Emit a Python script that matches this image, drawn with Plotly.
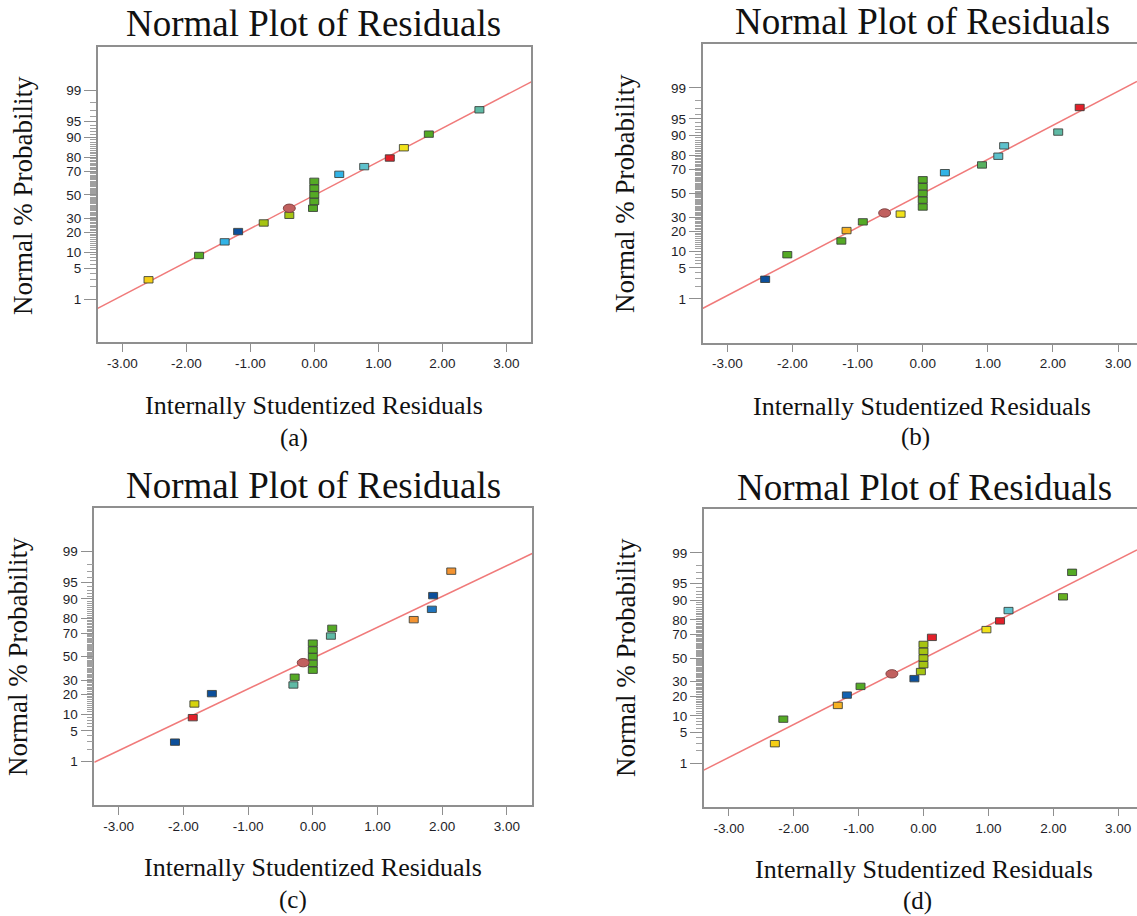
import plotly.graph_objects as go
from statistics import NormalDist

W, H = 1137, 916

# Probability levels shared by the four normal plots (percent)
prob_levels = [2.9, 8.8, 14.7, 20.6, 26.5, 32.4, 38.2, 44.1, 50.0, 55.9,
               61.8, 67.6, 73.5, 79.4, 85.3, 91.2, 97.1]

# Probability-axis labels and the finer 1 % marks between them
prob_major = [1, 5, 10, 20, 30, 50, 70, 80, 90, 95, 99]
prob_minor = [p for p in range(2, 99) if p not in prob_major]

x_ticks = [-3, -2, -1, 0, 1, 2, 3]

# Residual palette
GOLD = "#f6cf16"
GREEN = "#55aa25"
YGREEN = "#a6c412"
SKY = "#31b3e6"
NAVY = "#0c4f9b"
CYAN = "#5ec1cc"
RED = "#e2202a"
YELLOW = "#f1e21a"
SEA = "#5fbaa5"
AMBER = "#f7b222"
ORANGE = "#f39331"
BLUE = "#1f74bd"
MGREEN = "#58b060"

# (a)
a_resid = [-2.59, -1.80, -1.40, -1.19, -0.79, -0.39, -0.02, 0.00, 0.00, 0.00,
           0.00, 0.39, 0.78, 1.18, 1.40, 1.79, 2.58]
a_color = [GOLD, GREEN, SKY, NAVY, YGREEN, YGREEN, GREEN, GREEN, GREEN, GREEN,
           GREEN, SKY, CYAN, RED, YELLOW, GREEN, SEA]
a_sel = (-0.39, 38.2)
a_fit = (-0.01, 0.746)

# (b)
b_resid = [-2.42, -2.08, -1.25, -1.17, -0.92, -0.34, 0.00, 0.00, 0.00, 0.00,
           0.00, 0.34, 0.91, 1.16, 1.25, 2.08, 2.41]
b_color = [NAVY, GREEN, GREEN, AMBER, GREEN, YELLOW, GREEN, GREEN, GREEN, GREEN,
           GREEN, SKY, MGREEN, CYAN, CYAN, SEA, RED]
b_sel = (-0.585, 33.3)
b_fit = (0.0, 0.751)

# (c)
c_resid = [-2.13, -1.855, -1.83, -1.56, -0.30, -0.28, 0.00, 0.00, 0.00, 0.00,
           0.00, 0.28, 0.30, 1.56, 1.84, 1.86, 2.14]
c_color = [NAVY, RED, "#d6d40e", NAVY, SEA, GREEN, GREEN, GREEN, GREEN, GREEN,
           GREEN, SEA, GREEN, ORANGE, BLUE, NAVY, ORANGE]
c_sel = (-0.148, 44.7)
c_fit = (-0.032, 0.684)

# (d)
d_resid = [-2.29, -2.16, -1.32, -1.18, -0.97, -0.14, -0.04, 0.00, 0.00, 0.00,
           0.00, 0.13, 0.97, 1.18, 1.31, 2.15, 2.29]
d_color = [GOLD, GREEN, AMBER, "#1262b2", GREEN, NAVY, YGREEN, YGREEN, YGREEN,
           YGREEN, YGREEN, RED, YELLOW, RED, CYAN, "#66b020", GREEN]
d_sel = (-0.487, 36.3)
d_fit = (-0.01, 0.73)

SEL_COLOR = "#c1605f"


def probit(p):
    return NormalDist().inv_cdf(p / 100.0)


def px(x):
    return x / W


def py(y):
    return 1 - y / H


# Panel geometry in pixels: (left, right, top, bottom), axis ranges, label spots
panels = [
    dict(tag="(a)", resid=a_resid, color=a_color, sel=a_sel, fit=a_fit,
         box=(97.7, 531.3, 47.3, 342.3), xr=(-3.384, 3.391), mirror_y=True,
         title=(313, 24.0), xtitle=(314, 405.5), lab=(294, 438), ytitle=(23, 196)),
    dict(tag="(b)", resid=b_resid, color=b_color, sel=b_sel, fit=b_fit,
         box=(702.5, 1137, 44.3, 342.5), xr=(-3.382, 3.29), mirror_y=False,
         title=(922, 21.5), xtitle=(922, 406.5), lab=(915, 437), ytitle=(625, 194)),
    dict(tag="(c)", resid=c_resid, color=c_color, sel=c_sel, fit=c_fit,
         box=(94.3, 532.2, 508.3, 805.0), xr=(-3.377, 3.391), mirror_y=True,
         title=(313, 485.5), xtitle=(313, 867.5), lab=(293, 900), ytitle=(18, 657)),
    dict(tag="(d)", resid=d_resid, color=d_color, sel=d_sel, fit=d_fit,
         box=(703.8, 1137, 509.3, 806.7), xr=(-3.385, 3.29), mirror_y=False,
         title=(924, 487.0), xtitle=(924, 869.5), lab=(917, 901), ytitle=(626, 658)),
]

Y_RANGE = (-3.29, 3.29)
AXIS_GRAY = "#8f8f8f"
TICK_FONT = dict(family="Liberation Sans, Arial, sans-serif", size=13.5, color="#1e1e28")
SERIF = "Liberation Serif, Times New Roman, serif"

fig = go.Figure()
shapes = []
annotations = []
layout_axes = {}

for i, pn in enumerate(panels, start=1):
    xa = "x" if i == 1 else f"x{i}"
    ya = "y" if i == 1 else f"y{i}"
    l, r, t, b = pn["box"]

    # fitted reference line on the probit scale
    x0, x1 = pn["xr"]
    b0, b1 = pn["fit"]
    fig.add_trace(go.Scatter(
        x=[x0, x1], y=[b0 + b1 * x0, b0 + b1 * x1], mode="lines",
        line=dict(color="#f07a7a", width=1.5), xaxis=xa, yaxis=ya,
        showlegend=False, hoverinfo="skip"))

    # residual markers: small rectangles, fixed pixel size, anchored on data
    for xv, pv, col in zip(pn["resid"], prob_levels, pn["color"]):
        shapes.append(dict(
            type="rect", xref=xa, yref=ya, xsizemode="pixel", ysizemode="pixel",
            xanchor=xv, yanchor=probit(pv), x0=-4.5, x1=4.5, y0=-3.2, y1=3.2,
            fillcolor=col, line=dict(color="rgba(55,60,55,0.85)", width=1)))

    sx, sp = pn["sel"]
    shapes.append(dict(
        type="circle", xref=xa, yref=ya, xsizemode="pixel", ysizemode="pixel",
        xanchor=sx, yanchor=probit(sp), x0=-6, x1=6, y0=-4.2, y1=4.2,
        fillcolor=SEL_COLOR, line=dict(color="rgba(120,60,60,0.9)", width=1)))

    layout_axes["xaxis" if i == 1 else f"xaxis{i}"] = dict(
        domain=[px(l), px(r)], range=list(pn["xr"]), anchor=ya,
        tickmode="array", tickvals=x_ticks, ticktext=[f"{v:.2f}" for v in x_ticks],
        ticks="outside", ticklen=8, tickwidth=1, tickcolor=AXIS_GRAY,
        showline=True, linecolor=AXIS_GRAY, linewidth=1.5, mirror=True,
        showgrid=False, zeroline=False, tickfont=TICK_FONT, fixedrange=True)
    layout_axes["yaxis" if i == 1 else f"yaxis{i}"] = dict(
        domain=[py(b), py(t)], range=list(Y_RANGE), anchor=xa,
        tickmode="array", tickvals=[probit(p) for p in prob_major],
        ticktext=[str(p) for p in prob_major],
        ticks="outside", ticklen=12, tickwidth=1, tickcolor=AXIS_GRAY,
        minor=dict(tickmode="array", tickvals=[probit(p) for p in prob_minor],
                   ticks="outside", ticklen=6, tickwidth=1, tickcolor="#a0a0a0",
                   showgrid=False),
        showline=True, linecolor=AXIS_GRAY, linewidth=1.5, mirror=pn["mirror_y"],
        showgrid=False, zeroline=False, tickfont=TICK_FONT, fixedrange=True)

    tx, ty = pn["title"]
    annotations.append(dict(text="Normal Plot of Residuals", x=px(tx), y=py(ty),
                            xref="paper", yref="paper", showarrow=False,
                            xanchor="center", yanchor="middle",
                            font=dict(family=SERIF, size=37, color="#111")))
    tx, ty = pn["xtitle"]
    annotations.append(dict(text="Internally Studentized Residuals", x=px(tx), y=py(ty),
                            xref="paper", yref="paper", showarrow=False,
                            xanchor="center", yanchor="middle",
                            font=dict(family=SERIF, size=26, color="#111")))
    tx, ty = pn["lab"]
    annotations.append(dict(text=pn["tag"], x=px(tx), y=py(ty),
                            xref="paper", yref="paper", showarrow=False,
                            xanchor="center", yanchor="middle",
                            font=dict(family=SERIF, size=25, color="#111")))
    tx, ty = pn["ytitle"]
    annotations.append(dict(text="Normal % Probability", x=px(tx), y=py(ty),
                            xref="paper", yref="paper", showarrow=False,
                            xanchor="center", yanchor="middle", textangle=-90,
                            font=dict(family=SERIF, size=27, color="#111")))

fig.update_layout(
    width=W, height=H, margin=dict(l=0, r=0, t=0, b=0),
    paper_bgcolor="white", plot_bgcolor="white",
    shapes=shapes, annotations=annotations, showlegend=False,
    **layout_axes)

fig.write_html("out.html", config={"displayModeBar": False})
